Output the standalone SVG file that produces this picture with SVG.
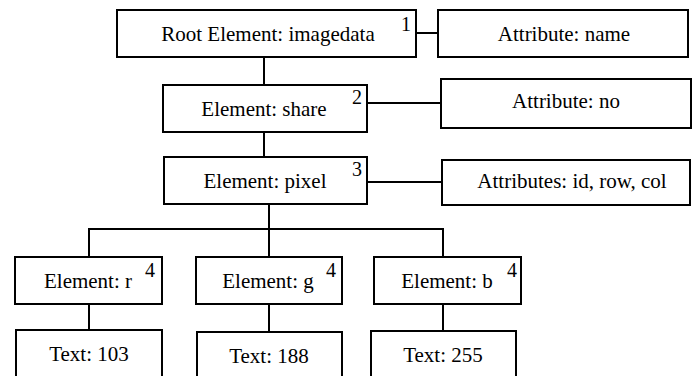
<svg xmlns="http://www.w3.org/2000/svg" width="699" height="376" viewBox="0 0 699 376">
  <style>
    .box { fill: #ffffff; stroke: #000000; stroke-width: 2; }
    .lbl { font-family: "Liberation Serif", "Times New Roman", serif; font-size: 21px; fill: #000000; text-anchor: middle; }
    .num { font-family: "Liberation Serif", "Times New Roman", serif; font-size: 20px; fill: #000000; }
    .wire { fill: none; stroke: #000000; stroke-width: 2; }
  </style>
  <rect width="699" height="376" fill="#ffffff"/>

  <!-- connectors -->
  <g id="connectors">
    <line class="wire" x1="264" y1="57" x2="264" y2="85"/>
    <line class="wire" x1="416" y1="33" x2="438" y2="33"/>
    <line class="wire" x1="367" y1="103" x2="441" y2="103"/>
    <line class="wire" x1="264" y1="132" x2="264" y2="157"/>
    <line class="wire" x1="367" y1="182" x2="442" y2="182"/>
    <line class="wire" x1="269" y1="204" x2="269" y2="257"/>
    <polyline class="wire" points="89,257 89,229 443,229 443,257"/>
    <line class="wire" x1="89" y1="304" x2="89" y2="330"/>
    <line class="wire" x1="269" y1="304" x2="269" y2="332"/>
    <line class="wire" x1="443" y1="304" x2="443" y2="331"/>
  </g>

  <g id="root">
    <rect class="box" x="117" y="10" width="299" height="47"/>
    <text class="lbl" x="268" y="41">Root Element: imagedata</text>
    <text class="num" x="401" y="31">1</text>
  </g>
  <g id="attr-name">
    <rect class="box" x="438" y="10" width="250" height="47"/>
    <text class="lbl" x="564" y="41">Attribute: name</text>
  </g>

  <g id="share">
    <rect class="box" x="163" y="85" width="204" height="47"/>
    <text class="lbl" x="264" y="116">Element: share</text>
    <text class="num" x="352" y="104">2</text>
  </g>
  <g id="attr-no">
    <rect class="box" x="441" y="79" width="250" height="49"/>
    <text class="lbl" x="566" y="108">Attribute: no</text>
  </g>

  <g id="pixel">
    <rect class="box" x="164" y="157" width="203" height="47"/>
    <text class="lbl" x="265" y="188">Element: pixel</text>
    <text class="num" x="352" y="176">3</text>
  </g>
  <g id="attr-pixel">
    <rect class="box" x="442" y="160" width="248" height="45"/>
    <text class="lbl" x="572" y="188">Attributes: id, row, col</text>
  </g>

  <g id="elem-r">
    <rect class="box" x="15" y="257" width="147" height="47"/>
    <text class="lbl" x="88" y="288">Element: r</text>
    <text class="num" x="145" y="277">4</text>
  </g>
  <g id="elem-g">
    <rect class="box" x="196" y="257" width="146" height="47"/>
    <text class="lbl" x="268" y="288">Element: g</text>
    <text class="num" x="326" y="277">4</text>
  </g>
  <g id="elem-b">
    <rect class="box" x="374" y="257" width="147" height="47"/>
    <text class="lbl" x="447" y="288">Element: b</text>
    <text class="num" x="507" y="277">4</text>
  </g>

  <!-- text boxes run past the bottom edge -->
  <g id="text-r">
    <rect class="box" x="16" y="330" width="146" height="50"/>
    <text class="lbl" x="89" y="361">Text: 103</text>
  </g>
  <g id="text-g">
    <rect class="box" x="197" y="332" width="145" height="50"/>
    <text class="lbl" x="269" y="363">Text: 188</text>
  </g>
  <g id="text-b">
    <rect class="box" x="371" y="331" width="145" height="50"/>
    <text class="lbl" x="443" y="362">Text: 255</text>
  </g>
</svg>
